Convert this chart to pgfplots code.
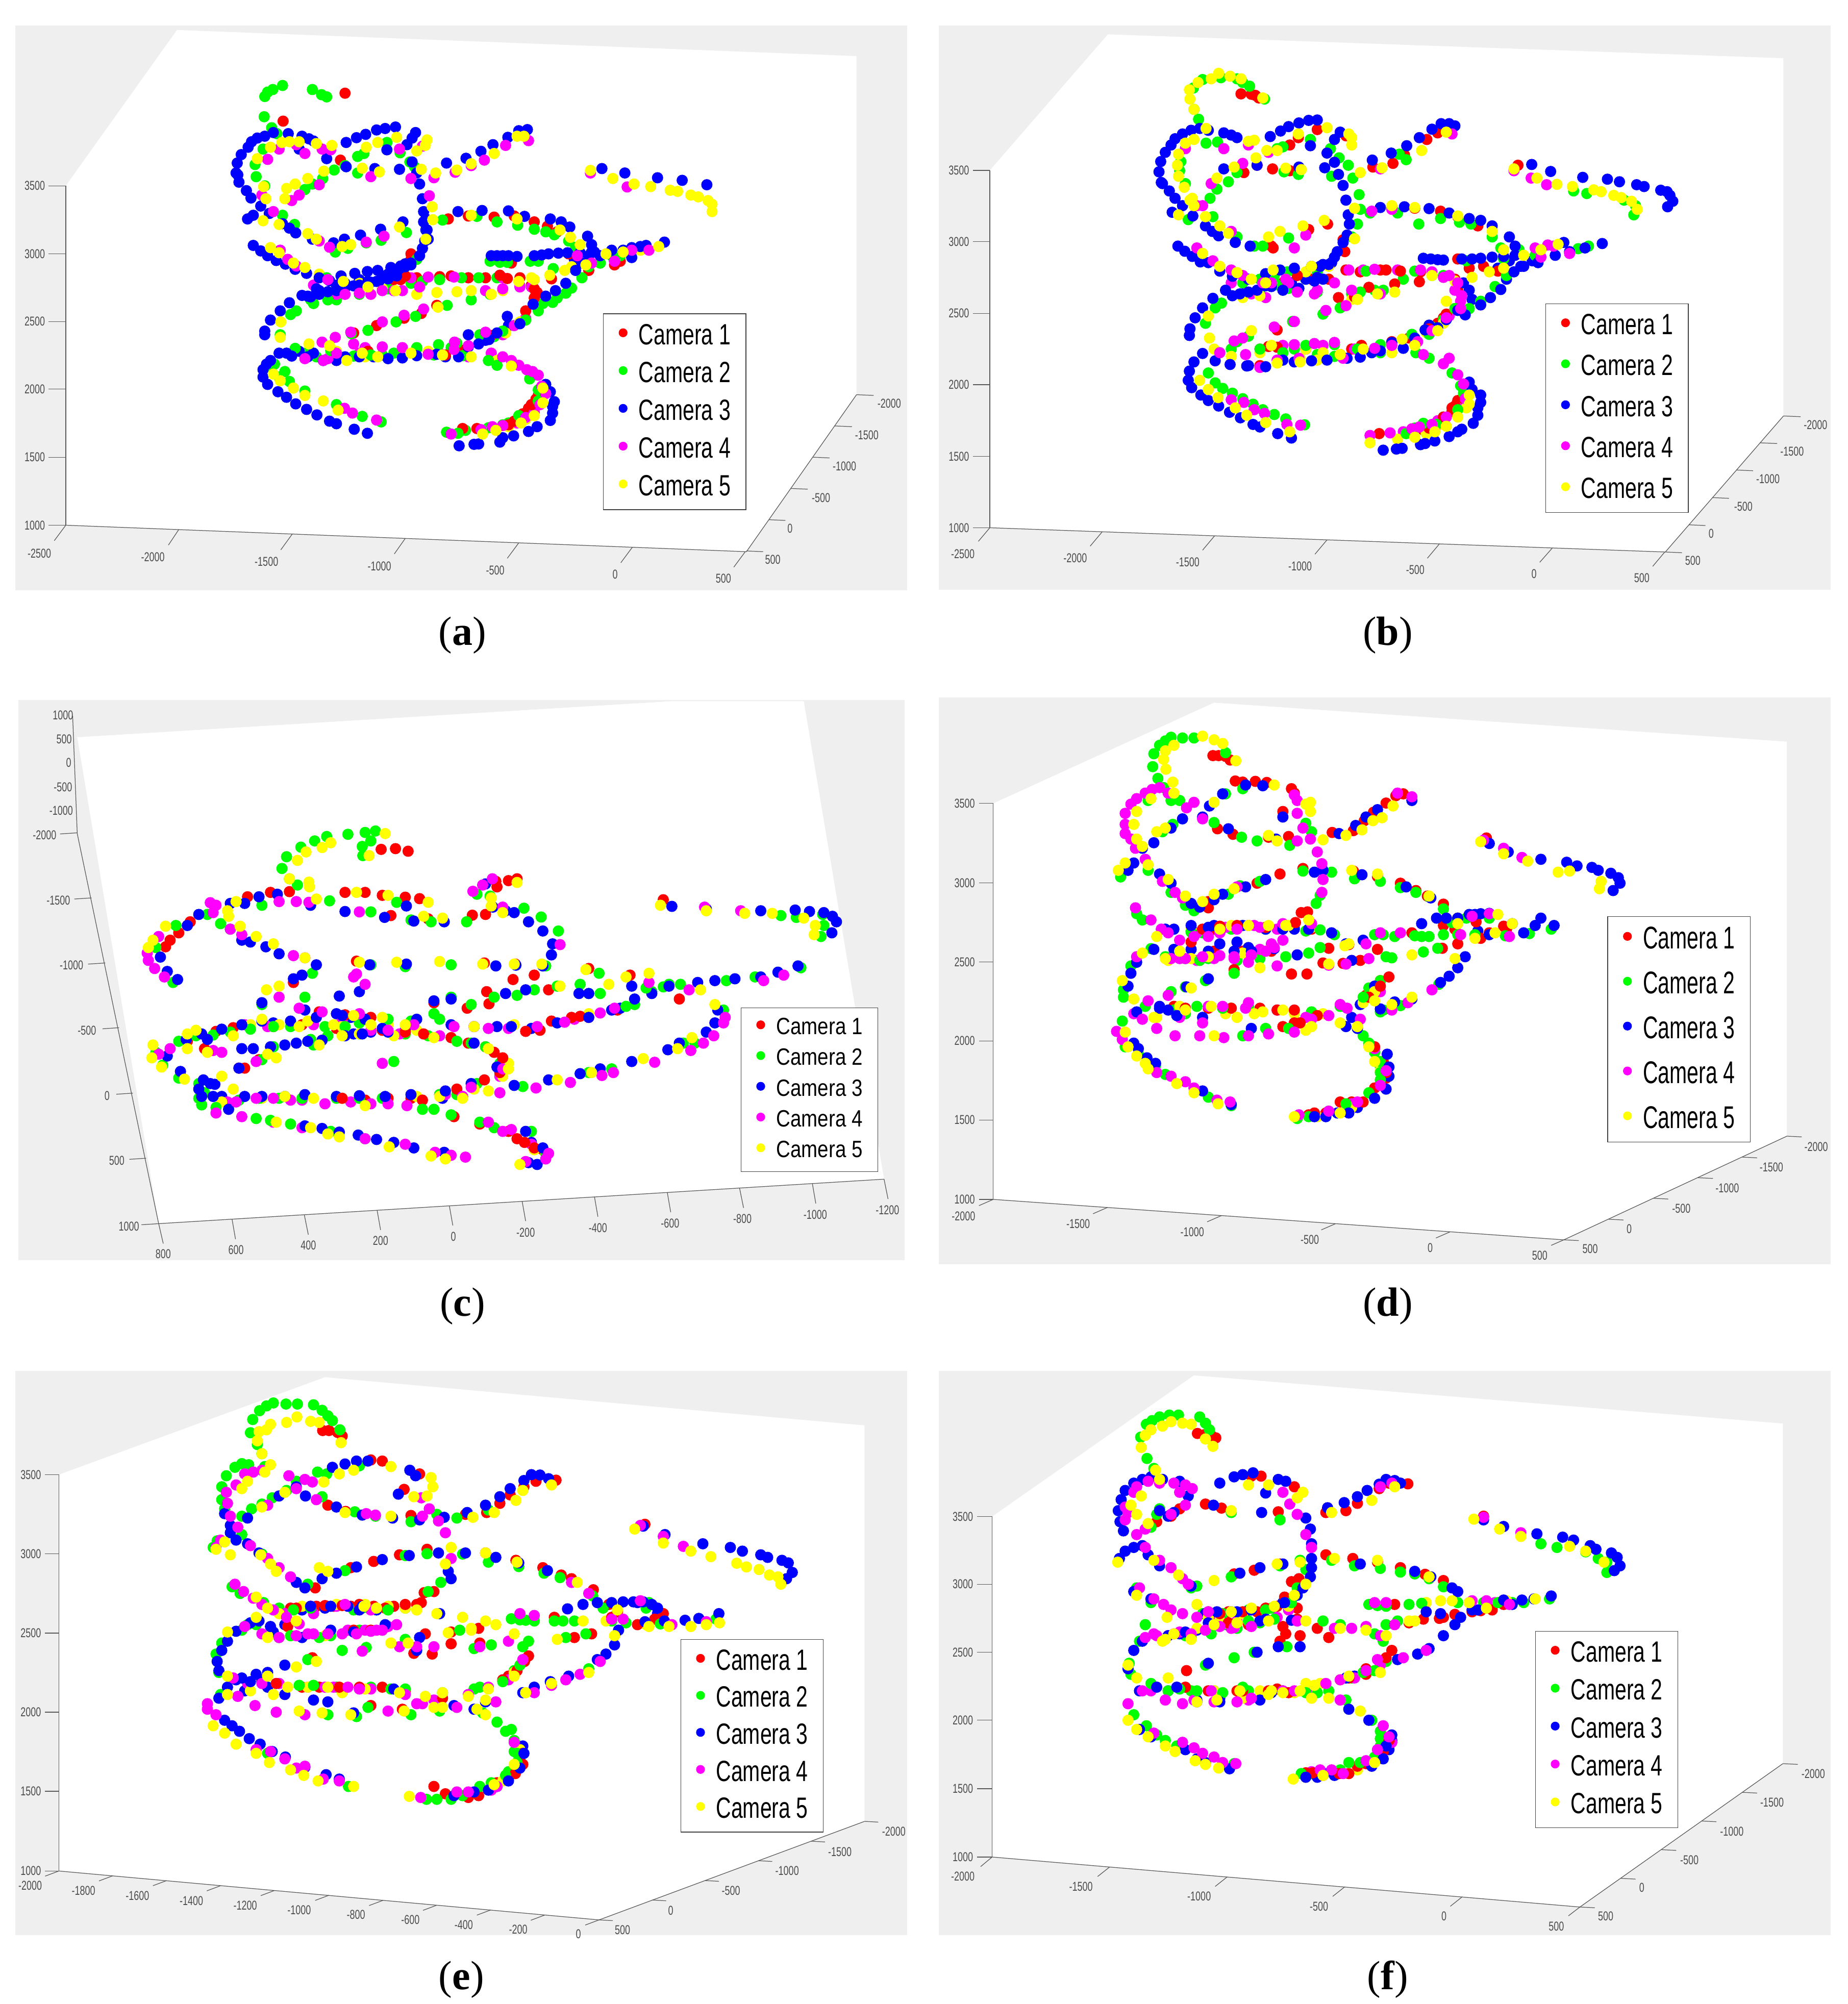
\documentclass[border=0pt]{standalone}
\usepackage{fontspec}
\setmainfont{Liberation Sans}
\newfontfamily\capfont{Liberation Serif}
\usepackage{graphicx}
\usepackage{pgfplots}
\pgfplotsset{compat=1.18}
\definecolor{cA}{RGB}{255,0,0}
\definecolor{cB}{RGB}{0,255,0}
\definecolor{cC}{RGB}{0,0,255}
\definecolor{cD}{RGB}{255,0,255}
\definecolor{cE}{RGB}{255,255,0}
\definecolor{bgg}{RGB}{239,239,239}
\pgfplotsset{
  panel/.style={anchor=north west, scale only axis, width=352pt, height=226pt,
    xmin=0, xmax=1566, ymin=0, ymax=1568, y dir=reverse, hide axis, clip=false,
    legend cell align=left,
    legend image code/.code={\fill[##1] (0pt,1.3pt) circle (1.6pt);}},
  cam/.style={only marks, mark=*, mark size=2pt, color=#1, mark options={draw=none, fill=#1}},
  leg/.style n args={3}{legend style={at={(axis cs:#1,#2)}, anchor=north west,
    draw=black!75, line width=.25pt, fill=white, inner xsep=6pt, inner ysep=4pt,
    nodes={inner sep=0pt}, row sep=#3, /tikz/column 1/.style={column sep=4.4pt}, font=\fontsize{8.2}{9}\selectfont}}
}
\newcommand{\lgv}{1.4}
\newcommand{\lgt}[1]{\scalebox{1}[\lgv]{#1}}
\newcommand{\camleg}{\legend{\lgt{Camera 1},\lgt{Camera 2},\lgt{Camera 3},\lgt{Camera 4},\lgt{Camera 5}}}
\newcommand{\BOX}[2]{\addplot[forget plot, fill=#1, draw=none] coordinates {#2} --cycle;}
\newcommand{\TL}[4]{\addplot[forget plot, color=black!65, line width=.25pt] coordinates {(#1,#2)(#3,#4)};}
\newcommand{\TK}[3]{\node[text=black!70, inner sep=0pt, font=\fontsize{3.6}{4}\selectfont] at (axis cs:#1,#2) {\scalebox{1}[1.4]{#3}};}
\newcommand{\CAP}[3]{\node[inner sep=0pt, font=\capfont\fontsize{16}{17}\selectfont] at (axis cs:#1,#2) {(\textbf{#3})};}
\newcommand{\XTRA}[2]{\addplot[cam=#1, forget plot] coordinates {#2};}
\begin{document}
\begin{tikzpicture}
\path[use as bounding box] (0,0) rectangle (724.4pt,785.6pt);

% (a)
\begin{axis}[panel, at={(6pt,777.6pt)}, leg={1025}{797}{5.3pt}]
\BOX{bgg}{(0,14)(1555,14)(1555,1550)(0,1550)}
\BOX{white}{(282,26)(1467,97)(1467,1018)(1275,1445)(88,1373)(88,450)}
\TL{88}{450}{88}{1373}\TL{88}{1373}{1275}{1445}\TL{1275}{1445}{1467}{1018}
\TL{88}{450}{58}{450}\TL{88}{635}{58}{635}\TL{88}{819}{58}{819}\TL{88}{1003}{58}{1003}\TL{88}{1188}{58}{1188}\TL{88}{1373}{58}{1373}
\TL{88}{1373}{68}{1415}\TL{285}{1385}{267}{1427}\TL{483}{1397}{463}{1440}\TL{680}{1409}{661}{1451}\TL{878}{1421}{858}{1463}\TL{1076}{1433}{1056}{1475}\TL{1273}{1445}{1253}{1487}
\TL{1467}{1018}{1497}{1020}\TL{1429}{1103}{1459}{1105}\TL{1391}{1188}{1420}{1190}\TL{1352}{1273}{1382}{1275}\TL{1314}{1358}{1343}{1360}\TL{1275}{1443}{1304}{1445}
\XTRA{cA}{(700,700)(760,695)(820,700)(880,700)(900,720)(908,745)(915,1005)(908,1030)(895,1055)(690,650)(660,705)}
\XTRA{cB}{(520,770)(560,760)(600,745)(650,730)(690,715)(840,700)(760,890)(730,910)(640,910)(560,910)(505,905)(445,945)(870,830)(835,860)(920,770)(945,755)(1040,640)(1075,630)(1100,620)(915,1020)(860,1095)(850,1100)(785,1115)(460,970)}
\XTRA{cC}{(560,720)(600,705)(650,690)(690,665)(530,735)(625,915)(560,925)(495,900)(750,915)(860,830)(820,870)(1060,625)(1000,640)(975,650)(720,595)(716,570)}
\XTRA{cD}{(520,720)(560,745)(620,745)(660,735)(690,700)(740,700)(790,700)(850,700)(900,725)(910,740)(610,890)(590,880)(545,920)(600,905)(740,905)(790,915)(830,905)(850,855)(870,830)(890,810)(905,1065)(875,1095)(1020,660)}
\XTRA{cE}{(530,690)(600,715)(640,730)(700,745)(850,735)(900,700)(970,670)(520,905)(560,900)(610,915)(670,905)(720,900)(840,925)(855,850)(880,820)(920,1020)(890,1085)(860,1105)(1090,625)}
\addplot[cam=cA] coordinates {(575,198)(467,274)(567,380)(690,635)(680,695)(672,705)(865,660)(845,693)(1000,680)(1055,655)(1045,665)(740,697)(790,700)(805,1110)(780,1110)(900,1045)(885,1070)(870,1090)(860,1100)(912,1020)(615,900)(590,850)(630,830)(708,797)(678,810)(735,775)(755,540)(790,532)(835,535)(870,532)(905,548)(928,560)(945,575)(910,740)(905,755)(890,790)(773,893)(750,910)(830,857)(858,702)(905,730)(935,703)(965,635)};
\addplot[cam=cB] coordinates {(435,207)(440,195)(449,188)(466,177)(518,188)(534,202)(543,208)(434,262)(447,292)(456,308)(432,350)(418,392)(420,425)(435,450)(466,530)(487,555)(505,460)(518,445)(536,430)(556,407)(575,395)(597,370)(608,362)(648,332)(671,360)(688,385)(696,398)(597,415)(718,570)(682,577)(612,605)(638,598)(558,630)(580,620)(700,650)(745,543)(805,533)(840,548)(876,557)(905,568)(925,575)(940,583)(965,600)(977,617)(828,655)(845,658)(858,658)(898,655)(912,655)(938,675)(960,742)(970,728)(988,700)(937,767)(912,790)(890,815)(850,845)(810,855)(770,878)(738,882)(700,893)(660,905)(620,910)(590,913)(550,898)(525,915)(488,892)(478,982)(505,1008)(560,1045)(605,1077)(638,1092)(752,1120)(772,1123)(825,1108)(878,1075)(912,1035)(912,1005)(897,975)(840,938)(825,925)(780,912)(700,890)(470,955)(452,935)(490,790)(480,800)(462,855)(545,760)(543,700)(515,760)(664,820)(698,805)(615,843)(586,852)(753,775)(795,760)(828,745)(808,700)(778,700)(740,705)(710,710)(1020,660)(1055,640)(1000,670)};
\addplot[cam=cC] coordinates {(385,415)(387,388)(394,365)(406,345)(412,330)(422,320)(435,315)(450,305)(476,308)(500,315)(512,322)(520,328)(495,350)(543,376)(577,398)(627,403)(670,405)(698,305)(692,320)(683,338)(663,290)(645,294)(630,298)(611,310)(595,319)(577,332)(648,352)(692,385)(700,415)(705,445)(710,485)(712,520)(712,548)(718,570)(714,600)(710,620)(705,640)(690,660)(680,670)(670,675)(655,680)(640,695)(630,710)(615,710)(600,720)(575,715)(548,708)(525,730)(510,750)(478,768)(462,790)(445,815)(435,845)(435,855)(460,905)(445,925)(438,935)(432,950)(432,970)(440,990)(458,1010)(473,1025)(489,1043)(508,1058)(526,1073)(548,1090)(560,1097)(591,1112)(614,1123)(388,420)(390,440)(403,463)(411,483)(428,505)(443,525)(415,530)(405,540)(466,553)(478,565)(489,578)(518,595)(555,605)(574,595)(602,584)(637,568)(676,548)(716,540)(415,612)(428,627)(440,640)(455,653)(471,663)(488,677)(508,688)(530,700)(568,695)(592,688)(614,683)(632,680)(655,672)(672,668)(680,662)(500,748)(515,752)(530,745)(545,738)(560,735)(575,728)(590,722)(620,712)(635,708)(650,703)(665,695)(473,905)(482,913)(510,915)(520,905)(537,925)(575,915)(600,915)(650,920)(675,918)(700,912)(735,908)(773,915)(790,888)(790,855)(808,880)(826,868)(840,850)(858,805)(880,825)(903,772)(925,750)(942,735)(960,715)(977,680)(988,660)(1010,630)(1040,625)(1075,618)(1100,612)(1132,603)(1090,615)(830,640)(840,640)(850,640)(860,640)(875,642)(905,640)(918,638)(930,635)(947,633)(963,632)(985,632)(1005,630)(1020,640)(1045,655)(1075,645)(772,520)(814,517)(860,518)(888,533)(933,540)(952,548)(967,562)(998,587)(1005,610)(774,1157)(800,1153)(808,1152)(845,1147)(850,1135)(869,1130)(895,1118)(910,1105)(933,1088)(937,1068)(937,1050)(940,1037)(933,1010)(925,990)(1023,403)(1063,415)(1120,428)(1163,435)(1206,447)(893,297)(878,300)(859,318)(833,338)(812,356)(786,375)(752,388)};
\addplot[cam=cD] coordinates {(440,378)(460,350)(490,338)(505,362)(535,350)(550,352)(530,447)(495,475)(482,490)(430,475)(450,520)(620,425)(690,430)(730,428)(767,413)(795,395)(818,380)(855,340)(895,327)(710,342)(670,350)(722,477)(1003,415)(1067,453)(643,587)(612,603)(548,617)(530,600)(475,650)(462,625)(490,668)(545,705)(600,742)(575,745)(640,735)(675,735)(705,725)(720,698)(765,698)(820,735)(850,730)(880,722)(640,820)(678,802)(712,785)(558,862)(585,848)(535,875)(505,920)(537,925)(560,905)(640,888)(675,890)(720,908)(766,875)(820,848)(765,895)(790,885)(850,915)(865,925)(878,938)(892,950)(902,955)(912,965)(918,995)(925,1015)(915,1045)(890,1080)(850,1102)(832,1105)(812,1113)(760,1125)(630,1087)(588,1068)(574,1055)(1045,655)(1005,660)(1075,625)(1105,625)(980,640)(880,725)};
\addplot[cam=cE] coordinates {(422,376)(445,345)(465,332)(478,330)(495,330)(525,335)(552,340)(612,345)(632,332)(665,318)(715,340)(718,325)(700,355)(538,410)(510,430)(488,445)(473,457)(433,452)(437,485)(470,485)(432,545)(460,555)(510,580)(525,595)(570,615)(585,610)(605,402)(635,412)(708,405)(733,415)(770,407)(795,390)(835,362)(875,315)(887,315)(1003,408)(1042,430)(1079,445)(1108,452)(1142,462)(1155,465)(1178,475)(1191,480)(1208,490)(1215,500)(1215,520)(670,562)(716,595)(727,507)(728,542)(795,530)(875,540)(950,570)(968,590)(985,610)(445,618)(460,632)(485,660)(505,672)(572,710)(615,725)(663,735)(735,740)(770,738)(795,735)(830,745)(878,710)(905,705)(932,693)(958,680)(995,665)(1030,635)(1060,630)(1122,615)(737,780)(463,820)(462,862)(512,880)(548,885)(578,925)(605,905)(632,915)(690,905)(745,910)(795,915)(865,940)(450,962)(462,980)(485,1000)(505,1020)(537,1035)(563,1060)(815,1125)(838,1115)(882,1095)(905,1075)(920,1040)(920,1000)};
\camleg
\TK{34}{450}{3500}\TK{34}{635}{3000}\TK{34}{819}{2500}\TK{34}{1003}{2000}\TK{34}{1188}{1500}\TK{34}{1373}{1000}
\TK{42}{1450}{-2500}\TK{240}{1460}{-2000}\TK{438}{1472}{-1500}\TK{635}{1484}{-1000}\TK{837}{1496}{-500}\TK{1046}{1507}{0}\TK{1235}{1518}{500}
\TK{1524}{1042}{-2000}\TK{1485}{1128}{-1500}\TK{1446}{1213}{-1000}\TK{1405}{1298}{-500}\TK{1351}{1382}{0}\TK{1321}{1467}{500}
\CAP{780}{1672}{a}
\end{axis}

% (b)
\begin{axis}[panel, at={(368pt,775.6pt)}, leg={1058}{756}{6.55pt}]
\BOX{bgg}{(0,0)(1555,0)(1555,1535)(0,1535)}
\BOX{white}{(295,24)(1473,89)(1473,1062)(1267,1432)(89,1366)(89,394)}
\TL{89}{394}{89}{1366}\TL{89}{1366}{1267}{1432}\TL{1267}{1432}{1473}{1062}
\TL{89}{394}{60}{394}\TL{89}{588}{60}{588}\TL{89}{783}{60}{783}\TL{89}{977}{60}{977}\TL{89}{1172}{60}{1172}\TL{89}{1366}{60}{1366}
\TL{89}{1366}{69}{1403}\TL{285}{1377}{264}{1416}\TL{481}{1388}{460}{1427}\TL{677}{1399}{656}{1438}\TL{873}{1410}{852}{1449}\TL{1070}{1421}{1048}{1460}\TL{1266}{1432}{1245}{1471}
\TL{1473}{1062}{1503}{1064}\TL{1432}{1135}{1462}{1137}\TL{1391}{1209}{1420}{1211}\TL{1349}{1284}{1378}{1286}\TL{1308}{1358}{1337}{1360}\TL{1267}{1432}{1296}{1434}
\XTRA{cA}{(560,925)(640,880)(720,880)(790,860)(820,850)(870,810)(880,795)(905,1020)(895,1040)(870,1085)(845,1100)(735,670)(840,670)(900,690)(905,720)(650,690)(600,700)}
\XTRA{cB}{(530,700)(590,705)(640,690)(660,670)(560,730)(610,715)(660,725)(720,730)(760,720)(810,690)(860,680)(880,680)(510,880)(620,880)(660,895)(690,900)(770,890)(860,820)(880,800)(915,1000)(900,1040)(880,1065)(830,1095)}
\XTRA{cC}{(530,730)(580,710)(615,700)(640,690)(660,685)(685,645)(670,650)(540,925)(620,915)(755,890)(855,815)(1035,640)(1020,655)(995,640)(975,660)(990,690)(925,720)(930,745)(915,700)}
\XTRA{cD}{(510,700)(545,730)(570,740)(610,700)(660,720)(740,665)(800,665)(860,670)(880,685)(900,720)(910,750)(890,790)(560,880)(600,870)(640,880)(670,870)(725,880)(560,930)(890,905)(905,1040)(870,1075)(810,1105)}
\XTRA{cE}{(530,740)(560,735)(600,720)(640,670)(680,655)(860,680)(900,695)(720,745)(640,880)(670,890)(560,890)(510,900)(480,880)(790,890)(850,835)(880,810)(920,1040)(880,1085)(850,1110)(800,1125)(630,905)(660,910)}
\addplot[cam=cA] coordinates {(527,186)(545,187)(552,190)(558,197)(1010,380)(582,390)(612,395)(660,283)(627,305)(710,300)(612,325)(532,400)(555,380)(678,540)(645,555)(580,600)(583,605)(705,583)(708,615)(790,495)(830,497)(875,505)(905,520)(940,545)(905,635)(950,655)(975,668)(925,660)(870,292)(851,310)(812,352)(792,375)(757,385)(750,712)(725,738)(697,740)(795,703)(838,697)(805,668)(780,665)(710,665)(680,690)(625,680)(855,825)(885,785)(900,770)(590,828)(768,1110)(855,1095)(880,1065)(895,1050)(900,1035)(737,870)(700,895)(590,875)(575,873)(770,665)(1045,630)};
\addplot[cam=cB] coordinates {(444,170)(460,147)(492,142)(520,145)(530,155)(542,165)(568,200)(445,228)(453,255)(466,320)(486,317)(422,370)(420,395)(430,430)(473,470)(485,445)(505,425)(520,400)(600,330)(590,335)(648,310)(683,335)(698,360)(714,380)(685,410)(722,415)(733,460)(602,398)(627,405)(1107,450)(1130,457)(1195,475)(1212,515)(1215,490)(815,365)(803,350)(837,540)(875,525)(752,510)(735,500)(800,510)(908,535)(928,540)(965,575)(435,528)(478,520)(520,575)(550,600)(565,600)(610,578)(730,540)(720,575)(980,605)(1040,625)(1115,607)(1133,600)(1012,610)(920,640)(830,668)(745,668)(608,670)(585,680)(560,690)(493,755)(482,768)(465,810)(520,860)(540,845)(617,805)(670,785)(700,768)(900,770)(855,840)(825,840)(770,868)(730,880)(690,868)(640,870)(600,890)(560,880)(490,890)(470,945)(482,972)(495,987)(512,1000)(530,1015)(548,1030)(565,1045)(585,1058)(605,1070)(638,1086)(815,1110)(845,1082)(868,1085)(905,1045)(910,980)(895,945)(855,905)(832,890)(985,635)(990,680)(970,710)(945,750)(925,770)(775,720)(735,725)};
\addplot[cam=cC] coordinates {(388,427)(384,398)(387,370)(395,345)(405,325)(412,308)(425,295)(440,285)(455,280)(470,285)(497,292)(510,298)(520,305)(578,302)(596,287)(610,275)(628,265)(645,258)(660,257)(700,290)(690,310)(677,347)(648,327)(555,380)(497,390)(628,385)(673,387)(690,372)(697,405)(705,435)(710,475)(714,515)(716,540)(712,570)(705,590)(695,615)(690,630)(680,650)(665,655)(650,655)(620,660)(595,665)(570,675)(540,690)(512,682)(490,668)(470,645)(456,643)(442,628)(429,614)(417,600)(390,430)(402,450)(412,470)(425,490)(407,508)(443,518)(465,545)(477,560)(488,572)(517,590)(543,600)(512,735)(525,730)(540,725)(555,720)(570,708)(600,720)(628,715)(655,695)(670,690)(500,720)(478,742)(460,768)(447,795)(438,825)(437,843)(460,892)(445,915)(437,940)(435,965)(441,985)(457,1005)(470,1020)(488,1035)(507,1052)(526,1067)(548,1085)(560,1092)(591,1110)(615,1122)(482,912)(508,922)(537,926)(570,928)(600,910)(650,912)(677,910)(712,905)(735,902)(770,885)(790,862)(810,878)(830,850)(848,828)(870,822)(885,800)(905,775)(918,787)(945,760)(962,740)(980,718)(1003,670)(1015,655)(1045,645)(1075,625)(1100,615)(1127,605)(1157,593)(1090,590)(1005,600)(1005,625)(845,633)(858,635)(870,637)(880,638)(912,635)(930,635)(945,633)(965,630)(985,628)(770,495)(812,493)(855,498)(890,510)(925,525)(945,530)(965,545)(995,575)(775,1155)(798,1152)(808,1150)(840,1140)(848,1137)(865,1130)(890,1118)(905,1105)(912,1098)(932,1082)(940,1060)(940,1040)(945,1025)(930,990)(925,970)(945,1005)(1034,378)(1067,397)(1123,413)(1166,418)(1187,425)(1217,433)(1230,438)(1259,448)(1270,452)(1275,462)(1280,478)(1271,493)(900,273)(890,267)(876,267)(860,282)(838,305)(816,327)(789,347)(756,366)};
\addplot[cam=cD] coordinates {(475,430)(530,375)(460,490)(497,335)(540,325)(575,345)(770,390)(790,500)(755,505)(895,295)(1003,395)(1033,415)(1060,433)(620,605)(640,570)(510,560)(450,490)(430,335)(450,605)(478,640)(510,665)(530,680)(580,700)(625,725)(655,730)(690,700)(715,665)(760,663)(840,665)(890,680)(905,700)(912,735)(910,770)(885,795)(860,830)(835,860)(790,870)(760,878)(690,862)(655,865)(620,868)(585,820)(530,850)(620,805)(675,775)(710,762)(565,700)(605,690)(510,1018)(532,1025)(550,1045)(568,1055)(607,1085)(631,1087)(752,1115)(787,1108)(825,1097)(838,1092)(860,1085)(885,1065)(918,1015)(915,975)(905,950)(880,920)(845,895)(490,890)(515,858)(535,895)(590,910)(628,905)(705,905)(1040,605)(1062,597)(1100,620)(1050,630)(720,720)(770,730)(1072,600)};
\addplot[cam=cE] coordinates {(438,200)(437,175)(452,155)(475,145)(488,130)(508,138)(527,145)(565,197)(466,280)(445,228)(418,350)(416,380)(418,410)(428,440)(438,475)(445,490)(485,415)(515,385)(553,360)(590,340)(572,340)(627,295)(677,278)(720,305)(720,325)(715,295)(605,388)(632,392)(735,400)(773,387)(842,340)(885,290)(1003,390)(1043,415)(1078,432)(1105,438)(1142,447)(1155,452)(1177,462)(1190,468)(1208,478)(1218,500)(430,320)(445,310)(540,315)(550,312)(418,515)(442,470)(465,520)(490,545)(505,565)(575,575)(595,560)(635,545)(672,530)(725,497)(790,490)(830,495)(905,518)(965,560)(985,610)(725,580)(460,620)(490,655)(520,672)(545,690)(570,700)(583,665)(650,655)(470,790)(472,850)(545,830)(580,870)(590,918)(630,915)(700,895)(740,880)(808,853)(830,870)(870,830)(885,1090)(905,1065)(925,1030)(925,1005)(455,965)(470,990)(487,1012)(517,1040)(537,1060)(570,1080)(612,1105)(752,1135)(830,1120)(865,1105)(1080,595)(1050,610)(1020,625)(985,660)(960,670)(930,685)(885,750)(795,725)(765,730)(730,745)};
\camleg
\TK{35}{394}{3500}\TK{35}{588}{3000}\TK{35}{783}{2500}\TK{35}{977}{2000}\TK{35}{1172}{1500}\TK{35}{1366}{1000}
\TK{42}{1437}{-2500}\TK{238}{1448}{-2000}\TK{434}{1459}{-1500}\TK{630}{1470}{-1000}\TK{831}{1481}{-500}\TK{1038}{1492}{0}\TK{1226}{1503}{500}
\TK{1529}{1086}{-2000}\TK{1488}{1159}{-1500}\TK{1446}{1233}{-1000}\TK{1403}{1308}{-500}\TK{1347}{1382}{0}\TK{1315}{1456}{500}
\CAP{783}{1658}{b}
\end{axis}

% (c)
\begin{axis}[panel, at={(6pt,513.6pt)}, leg={1265}{853}{4.1pt}, legend style={font=\fontsize{7.7}{8}\selectfont}]
\renewcommand{\lgv}{1.2}
\BOX{bgg}{(5,17)(1551,17)(1551,1540)(5,1540)}
\BOX{white}{(108,118)(1145,20)(1375,20)(1515,1320)(250,1440)}
\TL{100}{60}{108}{380}\TL{108}{380}{250}{1441}\TL{250}{1441}{1515}{1320}
\TL{108}{378}{78}{381}\TL{133}{555}{103}{558}\TL{157}{732}{127}{735}\TL{181}{908}{152}{911}\TL{205}{1086}{176}{1089}\TL{228}{1263}{199}{1266}\TL{250}{1441}{220}{1444}
\TL{250}{1441}{258}{1495}\TL{378}{1429}{384}{1483}\TL{504}{1417}{511}{1471}\TL{631}{1405}{637}{1458}\TL{757}{1393}{763}{1446}\TL{884}{1381}{890}{1434}\TL{1010}{1368}{1016}{1422}\TL{1137}{1356}{1143}{1410}\TL{1263}{1344}{1270}{1398}\TL{1390}{1332}{1396}{1386}\TL{1515}{1320}{1522}{1374}
\XTRA{cA}{(450,905)(500,900)(560,910)(640,915)(760,935)(790,950)(850,1010)(650,1100)(690,1100)(740,1090)(860,1190)(920,1240)(1000,880)(1050,860)(300,945)}
\XTRA{cB}{(480,905)(540,905)(600,895)(690,890)(740,885)(450,960)(520,955)(600,925)(680,925)(720,930)(845,1005)(805,1060)(770,1090)(740,1090)(640,1100)(560,1100)(460,1100)(330,1085)(1080,845)(1110,810)(1140,790)(900,1190)(925,1250)}
\XTRA{cC}{(450,895)(560,870)(585,880)(590,925)(620,920)(680,915)(745,1100)(560,1095)(470,1095)(360,1095)(900,1220)(1055,855)(1080,830)(1110,815)(900,910)(800,905)}
\XTRA{cD}{(400,900)(440,905)(520,900)(570,890)(620,915)(670,925)(740,930)(800,905)(860,910)(975,885)(850,1000)(845,1040)(750,1090)(650,1115)(585,1110)(500,1105)(450,1100)(370,1110)(865,1185)(900,1225)(500,1180)(450,1165)}
\XTRA{cE}{(410,900)(460,900)(510,890)(570,905)(650,900)(700,915)(660,930)(600,925)(700,1095)(740,1095)(570,1100)(430,1100)(360,1110)(860,1005)(850,1040)(800,1075)(905,1240)(800,905)(870,900)(1000,870)}
\addplot[cam=cA] coordinates {(638,423)(663,421)(685,428)(478,538)(445,540)(405,552)(575,540)(610,540)(640,548)(680,553)(705,557)(655,603)(720,612)(797,602)(820,600)(860,508)(875,503)(838,510)(840,525)(1130,560)(1072,765)(1000,747)(905,765)(868,777)(822,810)(826,843)(788,855)(730,840)(1158,830)(930,805)(970,880)(985,877)(935,890)(915,915)(890,918)(712,925)(680,920)(620,880)(575,873)(530,865)(485,785)(400,1018)(390,1018)(425,995)(330,965)(350,918)(380,908)(270,670)(262,688)(285,650)(305,620)(820,960)(835,975)(850,990)(845,1030)(818,1050)(770,1075)(710,1105)(610,1105)(570,1100)(765,1150)(810,1170)(875,1210)(888,1220)(905,1235)(595,727)(818,732)(872,735)};
\addplot[cam=cB] coordinates {(606,440)(605,415)(620,400)(628,373)(610,377)(580,382)(543,388)(522,400)(498,417)(473,443)(465,475)(478,503)(492,520)(548,563)(620,593)(665,567)(690,615)(725,620)(787,620)(805,545)(828,550)(887,583)(917,607)(947,645)(925,740)(680,742)(760,737)(620,737)(518,760)(1335,603)(1362,608)(1408,600)(1410,630)(1405,660)(1370,745)(1290,770)(1240,780)(1160,790)(1130,797)(1100,800)(1065,850)(1020,815)(1000,815)(1018,760)(985,790)(945,795)(905,805)(875,820)(835,825)(795,845)(760,825)(730,870)(650,885)(575,905)(450,905)(410,912)(375,920)(345,928)(315,930)(285,945)(245,975)(257,1010)(285,1045)(320,1060)(320,1100)(325,1118)(350,1125)(420,1155)(445,1160)(480,1170)(550,1190)(610,1210)(835,1180)(810,1165)(760,1145)(730,1130)(710,1130)(600,1100)(500,1100)(425,1100)(390,1105)(770,945)(795,950)(820,960)(515,940)(545,930)(430,845)(505,825)(1040,1020)(1165,950)(1185,950)(1235,860)(430,995)(335,600)(280,630)(245,690)(275,785)(358,625)(375,640)(430,575)(660,1000)(1000,1030)(885,1068)};
\addplot[cam=cC] coordinates {(1145,578)(1205,585)(1300,590)(1360,588)(1385,592)(1410,595)(1425,605)(1432,620)(1424,650)(820,517)(833,580)(855,590)(870,595)(895,620)(920,645)(937,680)(935,710)(920,740)(838,740)(873,738)(682,735)(618,737)(575,592)(644,608)(695,618)(748,620)(682,577)(515,575)(457,545)(425,552)(400,570)(375,570)(320,600)(300,630)(283,777)(265,755)(253,716)(395,670)(410,675)(437,688)(460,707)(485,775)(525,737)(500,765)(430,840)(505,860)(565,822)(600,810)(730,835)(760,830)(855,815)(890,805)(983,815)(1000,815)(1140,795)(1190,785)(1220,780)(1255,775)(1300,770)(1330,757)(1365,740)(1040,860)(1000,880)(945,895)(865,905)(840,905)(760,900)(700,885)(640,910)(610,885)(570,875)(525,880)(480,890)(430,890)(395,900)(360,912)(325,925)(298,940)(265,985)(288,1027)(348,1062)(328,1050)(320,1075)(325,1095)(372,1130)(345,1095)(400,1095)(430,1095)(505,1090)(600,1093)(645,1095)(690,1090)(750,1080)(795,1060)(840,1015)(800,950)(650,920)(605,925)(575,930)(535,942)(510,945)(490,950)(470,955)(445,960)(415,965)(395,965)(335,940)(340,1060)(505,1175)(535,1182)(565,1192)(598,1200)(630,1212)(660,1220)(695,1235)(748,1247)(890,1190)(920,1235)(910,1280)(895,1275)(870,1065)(930,1050)(985,1033)(1020,1020)(1075,1000)(1138,968)(1158,950)(1205,920)(1220,895)(1225,860)(390,1018)(1075,795)};
\addplot[cam=cD] coordinates {(798,537)(832,503)(815,520)(850,580)(1202,580)(1265,590)(950,682)(600,593)(490,565)(460,565)(512,567)(345,595)(350,575)(340,568)(375,640)(395,655)(485,712)(505,718)(250,660)(230,705)(232,725)(243,747)(260,770)(595,762)(610,790)(590,770)(535,865)(495,855)(460,825)(420,1000)(250,980)(1105,785)(1045,855)(1020,868)(958,893)(910,905)(825,910)(765,905)(695,900)(650,915)(600,870)(345,970)(360,975)(270,965)(640,1005)(540,1115)(480,1105)(420,1100)(385,1110)(350,1140)(395,1150)(610,1210)(680,1225)(732,1247)(760,1255)(785,1260)(825,1165)(850,1190)(925,1265)(930,1250)(890,1272)(850,1020)(780,1095)(795,1070)(845,1085)(908,1072)(968,1057)(1023,1038)(1043,1030)(1115,1002)(1178,970)(1200,950)(1218,930)(1238,880)(1235,895)(1175,805)(1305,780)(1340,765)(620,1115)(683,1120)};
\addplot[cam=cE] coordinates {(645,380)(617,440)(550,405)(535,418)(507,430)(492,453)(478,503)(512,512)(513,525)(525,558)(595,540)(650,548)(720,567)(712,605)(745,610)(875,513)(830,555)(830,577)(850,595)(1125,575)(1205,590)(1272,597)(1320,597)(1375,610)(1395,630)(1393,655)(385,565)(370,590)(372,605)(392,632)(420,660)(450,680)(505,718)(262,632)(240,670)(232,690)(438,805)(460,795)(600,730)(665,730)(740,728)(815,735)(870,735)(918,735)(995,750)(1065,770)(1105,760)(1195,805)(1220,845)(950,795)(1035,790)(300,925)(315,915)(240,955)(238,990)(255,1015)(295,1048)(360,1040)(380,1075)(440,980)(455,990)(530,955)(570,930)(620,900)(680,900)(730,935)(780,1100)(825,1080)(860,1020)(825,965)(610,1120)(520,1100)(470,1095)(455,1165)(515,1180)(545,1197)(565,1205)(652,1232)(725,1257)(750,1265)(880,1280)(945,1050)(1005,1030)(1095,992)(1155,965)(1180,935)(640,880)(590,875)(555,900)(495,905)(430,885)(380,930)(335,975)(300,965)};
\camleg
\TK{83}{58}{1000}\TK{85}{123}{500}\TK{93}{187}{0}\TK{83}{253}{-500}\TK{80}{318}{-1000}\TK{51}{384}{-2000}\TK{75}{562}{-1500}\TK{98}{738}{-1000}\TK{125}{916}{-500}\TK{160}{1093}{0}\TK{177}{1270}{500}\TK{198}{1449}{1000}
\TK{258}{1524}{800}\TK{385}{1512}{600}\TK{511}{1500}{400}\TK{637}{1487}{200}\TK{764}{1476}{0}\TK{890}{1465}{-200}\TK{1016}{1452}{-400}\TK{1142}{1440}{-600}\TK{1268}{1428}{-800}\TK{1395}{1416}{-1000}\TK{1521}{1404}{-1200}
\CAP{780}{1665}{c}
\end{axis}

% (d)
\begin{axis}[panel, at={(368pt,513.6pt)}, leg={1166}{605}{7.5pt}]
\renewcommand{\lgv}{1.5}
\BOX{bgg}{(0,10)(1555,10)(1555,1552)(0,1552)}
\BOX{white}{(480,24)(1479,130)(1479,1203)(1090,1485)(95,1375)(95,298)}
\TL{95}{298}{95}{1375}\TL{95}{1375}{1090}{1485}\TL{1090}{1485}{1479}{1203}
\TL{95}{298}{70}{298}\TL{95}{514}{70}{514}\TL{95}{729}{70}{729}\TL{95}{944}{70}{944}\TL{95}{1159}{70}{1159}\TL{95}{1375}{70}{1375}
\TL{95}{1375}{70}{1392}\TL{294}{1397}{269}{1414}\TL{493}{1419}{468}{1436}\TL{692}{1441}{667}{1458}\TL{892}{1463}{867}{1480}\TL{1090}{1485}{1068}{1500}
\TL{1479}{1203}{1505}{1205}\TL{1401}{1260}{1427}{1262}\TL{1324}{1316}{1350}{1318}\TL{1246}{1372}{1272}{1374}\TL{1168}{1429}{1194}{1431}\TL{1090}{1485}{1116}{1487}
\XTRA{cA}{(440,645)(480,640)(540,630)(600,635)(650,640)(480,700)(530,700)(580,700)(560,855)(470,855)(410,850)(620,900)(745,820)(770,780)(780,1045)(675,1140)(720,1110)(900,640)(960,650)}
\XTRA{cB}{(460,650)(510,640)(570,640)(620,635)(470,720)(520,725)(560,720)(510,855)(540,850)(650,865)(700,850)(750,800)(770,780)(760,975)(770,1015)(720,1115)(680,1135)(430,870)(410,860)(905,655)(960,610)}
\XTRA{cC}{(480,630)(530,630)(570,640)(620,640)(440,695)(470,700)(540,690)(385,850)(400,860)(460,880)(545,910)(735,845)(760,795)(785,1040)(730,1125)(695,1140)(940,645)(1000,625)}
\XTRA{cD}{(450,650)(500,635)(550,630)(590,640)(420,720)(450,725)(480,720)(560,695)(580,680)(600,670)(540,840)(590,860)(640,880)(340,870)(420,880)(460,895)(700,845)(760,965)(750,955)(720,1115)(770,810)}
\XTRA{cE}{(440,640)(510,630)(610,630)(650,635)(400,725)(440,720)(470,715)(530,705)(570,700)(380,880)(420,850)(500,870)(550,870)(620,870)(670,870)(740,840)(760,810)(640,915)(770,1025)(720,1125)(660,1150)}
\addplot[cam=cA] coordinates {(478,168)(488,168)(500,170)(508,180)(517,237)(530,240)(552,238)(572,241)(615,258)(620,270)(600,320)(686,377)(723,372)(742,345)(758,322)(780,297)(797,277)(810,272)(955,392)(486,367)(513,382)(575,390)(610,388)(555,515)(595,490)(635,475)(723,482)(765,497)(805,515)(832,535)(852,550)(880,572)(905,610)(937,620)(985,632)(632,595)(643,593)(470,582)(470,565)(622,622)(600,632)(570,635)(520,630)(490,632)(460,640)(440,675)(680,692)(715,682)(735,725)(705,733)(670,732)(642,762)(615,762)(765,695)(825,650)(880,630)(905,680)(878,692)(785,770)(770,795)(750,825)(620,860)(590,860)(510,855)(430,855)(600,905)(630,895)(660,875)(700,1110)(740,1110)(760,1072)(770,1060)(780,1030)(775,1000)(760,960)(645,1145)(655,1140)(620,895)(945,665)(990,640)(515,750)};
\addplot[cam=cB] coordinates {(373,198)(375,163)(385,140)(395,128)(405,118)(425,120)(445,120)(500,160)(382,230)(392,255)(365,290)(405,290)(420,290)(390,375)(408,355)(500,272)(530,258)(480,350)(528,390)(555,400)(612,412)(685,485)(635,482)(560,510)(525,522)(725,503)(770,510)(805,527)(832,540)(855,552)(880,585)(895,622)(920,610)(317,498)(365,480)(405,540)(430,575)(445,590)(505,545)(658,570)(665,548)(640,352)(650,375)(355,615)(345,598)(640,645)(665,642)(690,655)(760,655)(775,655)(795,660)(830,658)(842,660)(855,660)(880,655)(935,655)(988,658)(1030,652)(1068,640)(780,715)(790,718)(845,702)(870,692)(465,780)(430,797)(405,810)(322,805)(322,825)(335,740)(370,693)(440,648)(395,715)(430,720)(455,725)(605,715)(645,705)(665,690)(515,760)(770,865)(775,860)(805,848)(872,790)(740,825)(610,910)(570,910)(530,930)(450,850)(495,855)(360,850)(320,890)(325,960)(348,980)(378,1010)(395,1035)(470,1097)(510,1120)(740,930)(750,950)(770,1000)(770,1030)(770,1050)(750,1085)(710,1115)(625,1155)(645,1150)};
\addplot[cam=cC] coordinates {(1073,630)(1050,610)(1040,630)(1020,650)(960,655)(935,600)(925,600)(945,598)(960,597)(905,610)(885,610)(868,610)(842,625)(1095,458)(1113,468)(1139,472)(1150,480)(1172,488)(1185,500)(1188,515)(1176,535)(1050,450)(993,430)(960,407)(825,290)(765,315)(745,335)(727,358)(698,380)(670,480)(655,485)(570,505)(535,525)(495,545)(480,560)(455,580)(440,570)(405,515)(385,490)(375,405)(355,420)(340,460)(330,480)(425,340)(460,335)(405,365)(472,305)(495,272)(535,248)(565,250)(600,335)(505,367)(588,395)(738,492)(815,525)(858,555)(600,640)(645,640)(685,650)(740,670)(545,700)(585,693)(625,710)(515,700)(410,695)(375,695)(345,730)(335,760)(330,795)(470,775)(432,797)(345,865)(385,855)(415,875)(385,855)(340,950)(348,965)(363,990)(378,1005)(460,1080)(510,1117)(720,880)(770,857)(795,838)(825,830)(875,785)(890,768)(905,745)(918,715)(710,905)(715,1140)(655,1150)(675,1150)(760,1100)(780,1075)(785,1015)(782,980)(730,910)(470,635)(440,630)(410,640)(395,640)(490,680)(520,675)(720,725)(710,680)};
\addplot[cam=cD] coordinates {(372,260)(385,255)(360,270)(345,285)(335,300)(325,325)(325,355)(325,380)(335,395)(343,420)(360,450)(400,270)(432,310)(445,295)(460,340)(620,275)(625,290)(625,325)(635,365)(625,400)(648,395)(660,430)(668,462)(670,505)(668,540)(520,525)(390,510)(412,540)(425,555)(343,582)(370,615)(388,640)(400,650)(420,670)(445,660)(470,660)(490,650)(520,640)(560,635)(600,625)(985,420)(1017,445)(950,398)(825,280)(800,270)(585,690)(570,700)(545,710)(515,720)(490,712)(460,715)(430,720)(405,720)(650,625)(770,650)(805,650)(910,655)(995,660)(930,605)(960,598)(745,680)(750,720)(710,735)(680,738)(590,740)(540,730)(515,715)(345,715)(310,918)(320,940)(355,885)(380,910)(412,930)(455,930)(497,935)(540,930)(575,925)(620,920)(790,860)(818,840)(860,805)(712,855)(735,885)(680,875)(650,885)(495,850)(535,855)(470,850)(400,820)(365,835)(380,1030)(405,1040)(430,1055)(445,1072)(485,1105)(508,1110)(628,1145)(680,1135)(730,1110)(770,1065)(780,1025)};
\addplot[cam=cE] coordinates {(396,205)(392,178)(395,155)(410,140)(460,115)(480,125)(495,135)(518,182)(408,240)(410,270)(370,285)(345,320)(340,355)(345,395)(355,415)(380,375)(395,365)(480,295)(585,248)(648,295)(648,320)(640,300)(590,400)(575,385)(670,397)(710,385)(738,370)(757,345)(773,337)(792,305)(945,402)(985,435)(1027,455)(1100,482)(1155,510)(1152,530)(1080,485)(313,480)(325,460)(365,465)(400,505)(430,550)(460,565)(480,545)(515,530)(720,480)(765,490)(855,550)(645,615)(605,630)(575,630)(540,630)(490,640)(380,660)(420,700)(395,720)(355,705)(320,780)(340,830)(440,800)(715,680)(708,685)(825,710)(900,720)(935,665)(970,650)(1000,625)(975,600)(905,625)(680,735)(560,745)(475,850)(430,860)(375,880)(325,920)(330,960)(345,985)(360,1005)(365,1020)(415,1060)(445,1085)(487,1115)(620,1150)(700,1140)(760,1000)(750,960)(730,905)(700,895)(650,905)(600,860)(565,865)(480,930)(520,880)(825,825)(790,845)(760,835)};
\camleg
\TK{45}{298}{3500}\TK{45}{514}{3000}\TK{45}{729}{2500}\TK{45}{944}{2000}\TK{45}{1159}{1500}\TK{45}{1375}{1000}
\TK{43}{1420}{-2000}\TK{243}{1442}{-1500}\TK{442}{1463}{-1000}\TK{647}{1485}{-500}\TK{857}{1507}{0}\TK{1048}{1528}{500}
\TK{1530}{1232}{-2000}\TK{1452}{1288}{-1500}\TK{1375}{1344}{-1000}\TK{1295}{1400}{-500}\TK{1204}{1455}{0}\TK{1136}{1510}{500}
\CAP{783}{1665}{d}
\end{axis}

% (e)
\begin{axis}[panel, at={(6pt,249.6pt)}, leg={1160}{739}{5pt}]
\BOX{bgg}{(0,10)(1555,10)(1555,1545)(0,1545)}
\BOX{white}{(540,27)(1481,158)(1481,1235)(1018,1503)(76,1370)(76,292)}
\TL{76}{292}{76}{1370}\TL{76}{1370}{1018}{1503}\TL{1018}{1503}{1481}{1235}
\TL{76}{292}{52}{292}\TL{76}{507}{52}{507}\TL{76}{723}{52}{723}\TL{76}{938}{52}{938}\TL{76}{1153}{52}{1153}\TL{76}{1370}{52}{1370}
\TL{76}{1370}{52}{1384}\TL{170}{1383}{146}{1397}\TL{264}{1396}{240}{1410}\TL{358}{1410}{334}{1424}\TL{452}{1423}{428}{1437}\TL{547}{1436}{523}{1450}\TL{641}{1450}{617}{1464}\TL{735}{1463}{711}{1477}\TL{829}{1476}{805}{1490}\TL{923}{1490}{899}{1504}\TL{1018}{1503}{994}{1517}
\TL{1481}{1235}{1505}{1237}\TL{1388}{1289}{1412}{1291}\TL{1296}{1342}{1320}{1344}\TL{1203}{1396}{1227}{1398}\TL{1111}{1449}{1135}{1451}\TL{1018}{1503}{1042}{1505}
\XTRA{cA}{(480,655)(525,650)(555,650)(585,650)(625,650)(660,650)(700,645)(500,870)(430,850)(530,870)(680,880)(870,830)(860,840)(880,1070)(860,1120)(840,1130)(750,1160)(1050,665)}
\XTRA{cB}{(460,655)(540,650)(590,660)(680,655)(420,700)(550,730)(600,715)(640,715)(460,860)(560,870)(620,870)(680,875)(810,870)(870,825)(860,1100)(830,1130)(870,1045)(865,985)(1040,690)(1100,655)}
\XTRA{cC}{(500,660)(540,655)(580,650)(630,660)(470,700)(450,720)(500,735)(550,715)(400,880)(440,870)(385,850)(430,855)(470,890)(885,1030)(880,1070)(840,1140)(1085,640)(1120,670)}
\XTRA{cD}{(470,670)(520,670)(560,650)(600,655)(620,660)(510,725)(580,715)(610,715)(650,705)(405,860)(460,860)(510,870)(555,870)(620,875)(680,890)(700,915)(730,905)(860,850)(880,1050)(830,1150)(870,830)}
\XTRA{cE}{(460,670)(500,650)(560,645)(610,645)(650,650)(680,655)(440,730)(480,730)(540,730)(410,880)(450,890)(510,870)(570,885)(610,875)(870,830)(880,1040)(850,1125)(800,1160)(1030,690)(1100,700)}
\addplot[cam=cA] coordinates {(536,172)(547,172)(562,177)(570,187)(620,252)(640,255)(678,332)(705,290)(545,375)(576,392)(690,403)(785,400)(822,395)(845,370)(863,347)(887,325)(908,310)(943,307)(1098,427)(670,510)(718,495)(625,528)(585,545)(523,600)(713,613)(730,610)(708,640)(680,645)(645,655)(600,645)(570,648)(540,648)(515,650)(490,655)(820,505)(873,525)(920,545)(952,565)(970,575)(1008,605)(1035,645)(1085,700)(1040,680)(1130,670)(1115,685)(1005,725)(975,735)(940,680)(715,725)(760,720)(808,710)(695,778)(727,780)(760,752)(810,750)(590,715)(620,715)(475,705)(518,790)(895,785)(888,800)(875,825)(850,850)(640,870)(600,870)(565,870)(455,860)(620,920)(675,930)(745,900)(730,1140)(790,1170)(808,1165)(872,1105)(885,1050)(885,1080)};
\addplot[cam=cB] coordinates {(410,178)(414,142)(426,118)(438,105)(450,97)(472,100)(492,100)(520,102)(535,117)(545,132)(553,145)(566,170)(422,210)(430,235)(368,295)(383,272)(395,262)(407,265)(435,270)(360,325)(360,360)(365,385)(395,405)(412,385)(430,372)(448,355)(473,335)(490,310)(527,285)(543,290)(600,268)(535,352)(592,393)(628,405)(690,420)(735,400)(770,410)(825,388)(345,490)(352,472)(395,455)(430,508)(510,590)(575,553)(680,512)(718,507)(780,508)(825,530)(878,542)(922,560)(950,572)(1007,622)(742,585)(720,610)(378,597)(392,615)(433,640)(650,660)(605,655)(485,660)(515,655)(865,684)(880,687)(890,688)(905,690)(940,690)(955,690)(975,690)(1065,695)(1125,698)(1025,655)(1105,640)(1222,685)(1000,820)(995,725)(960,735)(895,745)(885,760)(350,780)(355,830)(360,750)(405,700)(395,715)(510,795)(570,770)(612,762)(680,740)(880,810)(850,855)(800,875)(775,715)(800,765)(830,755)(745,885)(655,875)(520,865)(495,865)(460,735)(480,730)(530,735)(545,945)(595,950)(615,925)(690,945)(740,935)(815,940)(840,965)(855,990)(870,1015)(875,1050)(875,1075)(855,1110)(810,1140)(780,1165)(760,1175)(735,1175)(717,1175)(581,1140)(440,1050)(358,890)};
\addplot[cam=cC] coordinates {(885,885)(905,870)(933,855)(965,840)(1015,795)(1030,780)(1045,755)(1052,715)(1132,690)(1098,692)(1168,688)(1192,683)(1227,670)(1060,638)(1078,638)(1095,638)(1110,645)(1120,655)(1040,640)(1015,640)(990,645)(963,657)(1247,490)(1268,500)(1300,510)(1312,517)(1337,525)(1348,532)(1355,558)(1345,575)(1199,480)(1133,455)(1095,432)(930,303)(915,293)(900,292)(887,308)(863,330)(845,352)(820,375)(788,395)(748,408)(705,415)(688,280)(698,295)(668,345)(658,410)(605,402)(560,380)(506,350)(460,350)(490,325)(553,272)(575,263)(595,255)(615,255)(365,398)(375,430)(405,410)(595,543)(560,560)(535,575)(505,600)(490,585)(425,505)(405,480)(385,470)(375,450)(640,523)(687,512)(738,505)(785,505)(838,517)(878,532)(928,553)(755,555)(760,575)(605,650)(550,650)(515,650)(425,690)(410,695)(385,718)(370,745)(360,770)(352,800)(355,825)(470,810)(440,830)(395,845)(420,835)(370,870)(355,900)(600,660)(445,705)(410,855)(520,905)(545,910)(590,940)(705,735)(590,720)(645,700)(700,770)(740,670)(765,920)(800,930)(820,910)(880,1090)(887,1050)(860,1125)(825,1150)(800,1155)(765,1165)(660,875)(365,960)(378,975)(391,990)(408,1010)(427,1025)(448,1045)(471,1060)(505,1088)(542,1108)(565,1120)};
\addplot[cam=cD] coordinates {(368,340)(370,370)(375,405)(388,435)(358,470)(350,490)(385,320)(400,290)(415,285)(430,280)(477,295)(505,305)(518,312)(490,330)(440,375)(525,360)(612,398)(628,402)(708,355)(722,385)(738,418)(750,450)(760,520)(710,405)(383,590)(398,610)(415,628)(430,645)(410,485)(440,520)(460,545)(480,570)(380,845)(335,915)(335,930)(350,945)(388,895)(418,920)(455,938)(505,945)(580,870)(600,875)(540,870)(430,860)(665,700)(640,715)(620,718)(595,725)(570,725)(545,725)(520,725)(490,730)(460,735)(430,725)(400,705)(450,660)(473,680)(495,698)(575,645)(605,772)(630,715)(670,760)(700,760)(730,760)(810,760)(860,745)(880,670)(905,675)(1040,685)(1090,635)(1205,692)(1145,700)(1060,685)(935,865)(960,850)(985,835)(1020,800)(905,885)(838,910)(770,925)(710,915)(650,935)(505,1085)(470,1065)(445,1045)(420,1040)(490,1090)(537,1120)(565,1125)(790,1155)(770,1155)(707,1170)(840,1140)(870,1020)(1165,487)(1130,460)(1090,430)(1000,615)(970,585)(885,795)(825,870)(790,890)};
\addplot[cam=cE] coordinates {(422,200)(425,175)(438,170)(445,155)(473,150)(491,135)(515,147)(530,150)(568,205)(430,235)(445,265)(395,330)(405,310)(435,285)(538,312)(565,290)(590,280)(655,270)(725,300)(728,325)(718,350)(695,352)(428,510)(375,510)(350,495)(365,475)(445,535)(455,555)(530,545)(545,555)(430,380)(470,340)(575,395)(655,405)(798,408)(835,395)(873,362)(885,335)(935,320)(1080,440)(1130,478)(1178,500)(1213,515)(1258,533)(1275,543)(1297,550)(1315,565)(1335,590)(1330,570)(420,625)(440,655)(820,505)(875,530)(980,585)(760,490)(750,535)(608,650)(630,655)(490,690)(420,680)(370,720)(755,722)(795,710)(820,690)(838,700)(870,725)(735,670)(700,660)(780,680)(990,690)(1050,660)(1105,705)(1140,705)(1178,705)(1205,700)(1228,695)(440,735)(655,750)(685,750)(795,715)(945,740)(525,800)(490,815)(370,840)(370,890)(440,840)(475,870)(545,870)(670,885)(715,895)(745,885)(790,895)(825,875)(870,840)(935,860)(890,885)(820,905)(730,925)(745,925)(495,935)(535,940)(585,945)(678,935)(805,930)(820,945)(345,975)(365,995)(385,1025)(420,1050)(443,1075)(480,1095)(503,1110)(528,1125)(687,1167)(590,1140)(1000,830)(1045,730)(870,1080)(835,1135)};
\camleg
\TK{27}{292}{3500}\TK{27}{507}{3000}\TK{27}{723}{2500}\TK{27}{938}{2000}\TK{27}{1153}{1500}\TK{27}{1370}{1000}
\TK{26}{1410}{-2000}\TK{119}{1424}{-1800}\TK{213}{1437}{-1600}\TK{307}{1451}{-1400}\TK{401}{1464}{-1200}\TK{495}{1476}{-1000}\TK{594}{1489}{-800}\TK{689}{1503}{-600}\TK{782}{1516}{-400}\TK{877}{1529}{-200}\TK{982}{1542}{0}
\TK{1532}{1263}{-2000}\TK{1438}{1318}{-1500}\TK{1346}{1370}{-1000}\TK{1248}{1424}{-500}\TK{1143}{1478}{0}\TK{1059}{1530}{500}
\CAP{778}{1665}{e}
\end{axis}

% (f)
\begin{axis}[panel, at={(368pt,249.6pt)}, leg={1040}{717}{5.35pt}]
\BOX{bgg}{(0,10)(1555,10)(1555,1545)(0,1545)}
\BOX{white}{(445,22)(1472,153)(1472,1078)(1118,1468)(93,1332)(93,406)}
\TL{93}{406}{93}{1332}\TL{93}{1332}{1118}{1468}\TL{1118}{1468}{1472}{1078}
\TL{93}{406}{67}{406}\TL{93}{590}{67}{590}\TL{93}{775}{67}{775}\TL{93}{960}{67}{960}\TL{93}{1146}{67}{1146}\TL{93}{1332}{67}{1332}
\TL{93}{1332}{73}{1358}\TL{298}{1359}{277}{1385}\TL{503}{1386}{482}{1412}\TL{708}{1413}{687}{1439}\TL{913}{1440}{892}{1466}\TL{1118}{1468}{1098}{1492}
\TL{1472}{1078}{1498}{1080}\TL{1401}{1156}{1427}{1158}\TL{1330}{1234}{1356}{1236}\TL{1260}{1312}{1286}{1314}\TL{1189}{1390}{1215}{1392}\TL{1118}{1468}{1144}{1470}
\XTRA{cA}{(470,665)(505,665)(555,665)(590,650)(625,655)(560,690)(600,705)(520,880)(470,880)(590,875)(660,865)(745,820)(785,1030)(765,1060)(690,1100)(670,1110)(880,680)(930,665)(985,645)}
\XTRA{cB}{(460,670)(495,670)(540,660)(580,655)(600,640)(430,730)(500,700)(520,710)(560,695)(440,880)(480,880)(540,880)(600,880)(720,845)(780,800)(770,1010)(760,1060)(700,1095)(650,1105)(950,640)(1000,640)}
\XTRA{cC}{(465,670)(510,665)(535,665)(600,640)(420,725)(450,715)(520,695)(400,880)(450,905)(490,900)(580,885)(725,840)(790,1015)(785,1040)(690,1110)(660,1115)(930,660)(1000,645)}
\XTRA{cD}{(480,690)(520,690)(590,680)(610,660)(510,710)(400,730)(380,730)(420,720)(370,880)(445,905)(480,910)(540,905)(600,880)(640,870)(655,880)(725,845)(770,810)(790,1020)(730,1085)(650,1100)(925,640)(970,640)}
\XTRA{cE}{(470,680)(530,670)(570,660)(610,650)(490,690)(450,710)(390,745)(480,880)(530,900)(560,880)(620,885)(640,860)(665,860)(700,850)(740,830)(770,1040)(730,1095)(640,1115)(850,640)(990,635)}
\addplot[cam=cA] coordinates {(451,180)(464,183)(477,188)(483,192)(545,296)(562,296)(620,325)(675,395)(710,390)(730,370)(768,330)(785,315)(818,317)(950,405)(465,372)(493,383)(592,393)(380,420)(405,405)(420,385)(550,552)(515,562)(595,535)(675,510)(722,520)(765,530)(805,545)(848,563)(880,580)(615,583)(628,575)(603,625)(570,655)(530,665)(490,670)(540,700)(505,695)(480,700)(625,685)(660,710)(605,725)(630,730)(595,745)(680,735)(795,645)(820,695)(845,685)(873,683)(900,672)(945,662)(965,660)(790,770)(780,790)(745,835)(715,845)(432,825)(430,870)(530,880)(575,880)(610,885)(640,1103)(652,1103)(698,1105)(715,1105)(730,1085)(745,1078)(775,1045)(785,1015)};
\addplot[cam=cB] coordinates {(352,190)(362,155)(372,145)(385,135)(402,130)(418,130)(455,135)(465,152)(472,170)(363,248)(375,275)(385,385)(380,400)(450,595)(440,600)(370,435)(510,395)(595,415)(685,525)(725,540)(770,547)(805,557)(830,562)(855,575)(880,597)(595,540)(630,525)(640,550)(625,600)(510,570)(1050,480)(1078,490)(1128,502)(1165,530)(1165,558)(1150,520)(345,600)(370,640)(750,645)(765,648)(780,650)(820,645)(842,642)(905,640)(975,640)(1020,640)(1065,630)(615,640)(570,660)(465,810)(515,790)(550,775)(607,760)(360,700)(350,745)(332,805)(335,835)(400,880)(440,735)(475,725)(540,690)(585,685)(670,690)(700,700)(760,725)(775,745)(780,700)(800,690)(760,825)(740,830)(680,880)(640,885)(530,870)(495,885)(450,880)(420,875)(370,860)(340,945)(362,975)(380,1000)(395,1015)(415,1030)(515,1078)(632,1105)(715,1075)(735,1075)(770,1030)(770,990)(755,960)(710,905)(660,885)};
\addplot[cam=cC] coordinates {(313,390)(316,420)(322,445)(318,360)(325,335)(340,315)(355,305)(370,298)(390,305)(420,310)(435,350)(479,375)(490,315)(515,298)(530,292)(548,287)(592,305)(570,342)(605,310)(563,395)(707,368)(730,352)(747,335)(768,318)(780,305)(795,308)(805,315)(950,415)(985,433)(1043,453)(1088,462)(1107,470)(1136,485)(1146,495)(1173,505)(1183,517)(1188,540)(1178,553)(678,382)(648,440)(650,520)(650,545)(648,570)(635,600)(625,620)(603,640)(525,560)(560,545)(600,535)(735,535)(830,555)(858,570)(895,600)(905,610)(340,610)(370,630)(650,480)(640,410)(385,390)(400,405)(410,395)(340,490)(325,500)(315,520)(355,485)(365,510)(385,540)(440,595)(485,665)(520,665)(545,660)(570,685)(615,688)(560,690)(470,695)(430,720)(400,730)(355,745)(340,770)(330,820)(470,805)(555,775)(592,760)(380,870)(415,870)(350,880)(450,910)(490,910)(560,905)(350,985)(370,1005)(450,1065)(430,1040)(465,1075)(507,1092)(630,760)(672,1105)(640,1115)(780,1030)(790,1000)(775,1065)(755,1085)(750,960)(715,930)(875,670)(850,665)(910,680)(900,700)(880,730)(855,765)(835,780)(800,795)(710,845)(1017,633)(1038,630)(1068,622)(985,633)(940,660)};
\addplot[cam=cD] coordinates {(325,415)(330,395)(325,380)(340,340)(345,325)(365,310)(385,315)(410,315)(430,320)(442,330)(420,340)(430,375)(405,400)(360,440)(345,455)(360,490)(385,525)(405,545)(425,575)(435,590)(625,400)(640,455)(650,490)(612,372)(600,340)(770,325)(790,315)(950,408)(1015,450)(350,600)(375,630)(392,645)(405,660)(425,670)(450,680)(470,665)(625,690)(490,705)(515,708)(545,705)(465,715)(440,725)(410,725)(375,725)(360,735)(330,915)(355,880)(395,905)(425,915)(475,880)(520,910)(545,900)(620,880)(675,860)(700,850)(745,825)(765,795)(760,640)(780,640)(930,635)(995,645)(955,635)(745,705)(770,730)(720,710)(690,710)(795,700)(850,770)(810,790)(375,995)(425,1020)(445,1035)(460,1050)(480,1060)(495,1075)(518,1078)(665,1095)(685,1095)(705,1105)(745,1070)(765,1040)(785,1005)(775,975)(700,905)};
\addplot[cam=cE] coordinates {(478,215)(465,195)(440,155)(425,152)(405,148)(390,160)(370,170)(360,185)(353,218)(378,280)(385,305)(353,350)(335,375)(345,400)(365,425)(312,530)(375,525)(418,565)(510,390)(540,320)(575,320)(625,355)(635,340)(685,395)(755,362)(795,325)(978,440)(1015,460)(1100,487)(1128,500)(1160,530)(933,413)(480,580)(590,535)(630,530)(690,520)(765,525)(855,570)(640,590)(345,620)(398,680)(450,645)(510,665)(545,655)(585,650)(620,620)(330,810)(345,845)(400,845)(395,740)(480,700)(520,695)(410,725)(440,740)(575,690)(640,690)(700,710)(745,715)(780,730)(770,830)(715,840)(655,865)(630,880)(600,885)(580,880)(575,890)(650,900)(680,900)(735,935)(450,910)(485,905)(525,880)(330,960)(345,985)(365,1005)(395,1030)(412,1045)(447,1070)(465,1080)(488,1090)(618,1120)(670,1110)(760,1075)(830,690)(875,635)(925,640)(955,655)(1040,630)(820,690)(895,635)};
\camleg
\TK{42}{406}{3500}\TK{42}{590}{3000}\TK{42}{775}{2500}\TK{42}{960}{2000}\TK{42}{1146}{1500}\TK{42}{1332}{1000}
\TK{42}{1385}{-2000}\TK{248}{1412}{-1500}\TK{454}{1439}{-1000}\TK{663}{1466}{-500}\TK{881}{1493}{0}\TK{1077}{1520}{500}
\TK{1525}{1106}{-2000}\TK{1453}{1184}{-1500}\TK{1383}{1262}{-1000}\TK{1309}{1340}{-500}\TK{1226}{1415}{0}\TK{1163}{1493}{500}
\CAP{783}{1665}{f}
\end{axis}
\end{tikzpicture}
\end{document}
